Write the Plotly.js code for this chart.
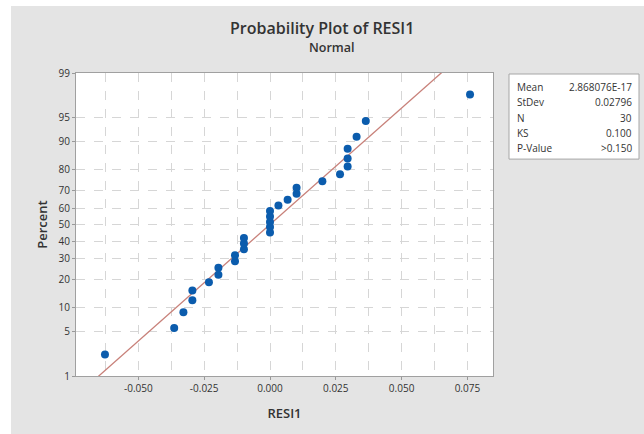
<!DOCTYPE html>
<html>
<head>
<meta charset="utf-8">
<script src="https://cdn.plot.ly/plotly-3.0.1.min.js"></script>
<style>html,body{margin:0;padding:0;background:#fff;}#chart{width:644px;height:434px;}</style>
</head>
<body>
<div id="chart"></div>
<script>
// Residuals (sorted)
var residuals = [-0.0627, -0.0364, -0.0329, -0.0295, -0.0295, -0.0232, -0.0196, -0.0196,
  -0.0133, -0.0133, -0.0099, -0.0099, -0.0099, 0.0000, 0.0000, 0.0000, 0.0000, 0.0000,
  0.0032, 0.0067, 0.0101, 0.0101, 0.0199, 0.0266, 0.0295, 0.0295, 0.0295, 0.0329, 0.0364, 0.0760];
// Plotted percent (median ranks)
var percents = [2.3, 5.6, 8.9, 12.2, 15.5, 18.8, 22.0, 25.3, 28.6, 31.9, 35.2, 38.5, 41.8, 45.1,
  48.4, 51.6, 54.9, 58.2, 61.5, 64.8, 68.1, 71.4, 74.7, 78.0, 81.3, 84.5, 87.8, 91.1, 94.4, 97.7];
var yTickPercents = [1, 5, 10, 20, 30, 40, 50, 60, 70, 80, 90, 95, 99];
var xTickVals = [-0.05, -0.025, 0, 0.025, 0.05, 0.075];
var xTickText = ["-0.050", "-0.025", "0.000", "0.025", "0.050", "0.075"];
var statLabels = ["Mean", "StDev", "N", "KS", "P-Value"];
var statValues = ["2.868076E-17", "0.02796", "30", "0.100", ">0.150"];
var fitMean = 2.868076e-17;
var fitStDev = 0.02796;

// Inverse standard normal CDF (Acklam)
function normInv(p) {
  var a = [-3.969683028665376e+01, 2.209460984245205e+02, -2.759285104469687e+02, 1.383577518672690e+02, -3.066479806614716e+01, 2.506628277459239e+00];
  var b = [-5.447609879822406e+01, 1.615858368580409e+02, -1.556989798598866e+02, 6.680131188771972e+01, -1.328068155288572e+01];
  var c = [-7.784894002430293e-03, -3.223964580411365e-01, -2.400758277161838e+00, -2.549732539343734e+00, 4.374664141464968e+00, 2.938163982698783e+00];
  var d = [7.784695709041462e-03, 3.224671290700398e-01, 2.445134137142996e+00, 3.754408661907416e+00];
  var pl = 0.02425, q, r;
  if (p < pl) { q = Math.sqrt(-2 * Math.log(p));
    return (((((c[0]*q+c[1])*q+c[2])*q+c[3])*q+c[4])*q+c[5]) / ((((d[0]*q+d[1])*q+d[2])*q+d[3])*q+1); }
  if (p > 1 - pl) { q = Math.sqrt(-2 * Math.log(1 - p));
    return -(((((c[0]*q+c[1])*q+c[2])*q+c[3])*q+c[4])*q+c[5]) / ((((d[0]*q+d[1])*q+d[2])*q+d[3])*q+1); }
  q = p - 0.5; r = q * q;
  return (((((a[0]*r+a[1])*r+a[2])*r+a[3])*r+a[4])*r+a[5])*q / (((((b[0]*r+b[1])*r+b[2])*r+b[3])*r+b[4])*r+1);
}

var yz = percents.map(function (p) { return normInv(p / 100); });
var zTop = normInv(0.99);
var fitZ = [-2.6, 2.6];
var fitX = fitZ.map(function (z) { return fitMean + fitStDev * z; });

// pixel -> paper helpers (plot area 76..493 x, 73..375.7 y)
var L = 76, R = 493, T = 73, B = 375.7;
function xp(px) { return (px - L) / (R - L); }
function yp(py) { return (B - py) / (B - T); }

var font = "'Open Sans', 'Noto Sans', sans-serif";
var gridC = "#d6d6d6";

var traces = [
  { x: fitX, y: fitZ, mode: "lines", type: "scatter", line: { color: "#c8817a", width: 1.3 }, hoverinfo: "skip", showlegend: false },
  { x: residuals, y: yz, mode: "markers", type: "scatter", marker: { color: "#0b5cad", size: 8 }, showlegend: false }
];

var annotations = [
  { text: "Probability Plot of RESI1", xref: "paper", yref: "paper", x: xp(322), y: yp(28), showarrow: false, font: { family: font, size: 16, color: "#333", weight: 600 }, xanchor: "center", yanchor: "middle" },
  { text: "Normal", xref: "paper", yref: "paper", x: xp(331), y: yp(48), showarrow: false, font: { family: font, size: 12.5, color: "#333", weight: 600 }, xanchor: "center", yanchor: "middle" }
];
var rowY = [87, 102, 117.5, 132.5, 148];
for (var i = 0; i < statLabels.length; i++) {
  annotations.push({ text: statLabels[i], xref: "paper", yref: "paper", x: xp(515), y: yp(rowY[i]), showarrow: false, xanchor: "left", yanchor: "middle", font: { family: font, size: 10, color: "#333" } });
  annotations.push({ text: statValues[i], xref: "paper", yref: "paper", x: xp(634), y: yp(rowY[i]), showarrow: false, xanchor: "right", yanchor: "middle", font: { family: font, size: 10, color: "#333" } });
}

var shapes = [
  { type: "rect", xref: "paper", yref: "paper", x0: xp(-5), x1: xp(11), y0: yp(440), y1: yp(-5), fillcolor: "#ffffff", line: { width: 0 }, layer: "below" },
  { type: "rect", xref: "paper", yref: "paper", x0: xp(-5), x1: xp(650), y0: yp(6), y1: yp(-5), fillcolor: "#ffffff", line: { width: 0 }, layer: "below" },
  { type: "rect", xref: "paper", yref: "paper", x0: xp(509), x1: xp(639), y0: yp(159), y1: yp(74), fillcolor: "#ffffff", line: { color: "#a6a6a6", width: 1 } }
];

var layout = {
  width: 644, height: 434,
  margin: { l: L, r: 644 - R, t: T, b: 434 - B },
  paper_bgcolor: "#e4e4e4",
  plot_bgcolor: "#ffffff",
  showlegend: false,
  font: { family: font, color: "#444" },
  xaxis: {
    range: [(L - 270) / 2632, (R - 270) / 2632],
    tickvals: xTickVals, ticktext: xTickText,
    ticks: "outside", ticklen: 3, tickcolor: "#999",
    tickfont: { size: 10, color: "#333" },
    showgrid: true, gridcolor: gridC, griddash: "dash", gridwidth: 1,
    minor: { tickvals: [-0.0625, -0.0375, -0.0125, 0.0125, 0.0375, 0.0625], showgrid: true, gridcolor: gridC, griddash: "dash", ticks: "" },
    showline: true, linecolor: "#a0a0a0", mirror: true, zeroline: false,
    title: { text: "RESI1", font: { size: 13, color: "#333", family: font, weight: 600 }, standoff: 14 }
  },
  yaxis: {
    range: [-zTop, zTop],
    tickvals: yTickPercents.map(function (p) { return normInv(p / 100); }),
    ticktext: yTickPercents.map(String),
    ticks: "outside", ticklen: 3, tickcolor: "#999",
    tickfont: { size: 10, color: "#333" },
    showgrid: true, gridcolor: gridC, griddash: "dash", gridwidth: 1,
    showline: true, linecolor: "#a0a0a0", mirror: true, zeroline: false,
    title: { text: "Percent", font: { size: 13, color: "#333", family: font, weight: 600 }, standoff: 8 }
  },
  annotations: annotations,
  shapes: shapes
};

Plotly.newPlot("chart", traces, layout, { displayModeBar: false, staticPlot: true });
</script>
</body>
</html>
